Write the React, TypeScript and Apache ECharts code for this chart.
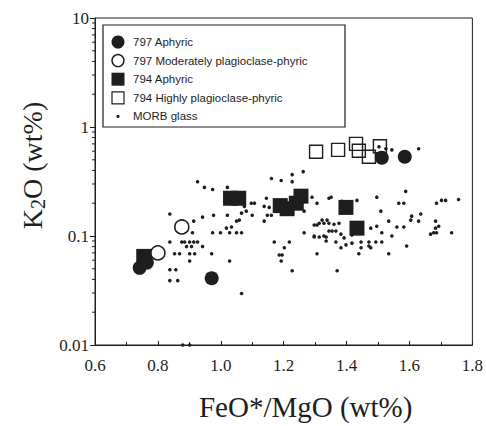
import React, { useEffect, useRef } from "react";
import * as echarts from "echarts";

// 797 Aphyric (filled circles)
const aphyric797: [number, number][] = [
  [0.742, 0.051], [0.765, 0.057], [0.971, 0.041], [1.512, 0.523], [1.585, 0.533],
];
// 797 Moderately plagioclase-phyric (open circles)
const plag797: [number, number][] = [
  [0.80, 0.070], [0.876, 0.121],
];
// 794 Aphyric (filled squares)
const aphyric794: [number, number][] = [
  [0.755, 0.065], [1.031, 0.222], [1.057, 0.222], [1.189, 0.19], [1.211, 0.178],
  [1.24, 0.2], [1.255, 0.232], [1.398, 0.183], [1.433, 0.118],
];
// 794 Highly plagioclase-phyric (open squares)
const plag794: [number, number][] = [
  [1.303, 0.593], [1.373, 0.617], [1.43, 0.70], [1.439, 0.605], [1.471, 0.533], [1.506, 0.665],
];
// MORB glass (small dots)
const morb: [number, number][] = [
  [0.926, 0.315], [0.948, 0.279], [0.974, 0.267], [1.021, 0.279], [0.838, 0.159],
  [0.942, 0.149], [0.977, 0.155], [1.021, 0.155], [1.066, 0.162], [1.081, 0.169],
  [1.100, 0.155], [1.075, 0.187], [1.097, 0.2], [1.107, 0.2], [0.914, 0.137],
  [1.018, 0.118], [1.034, 0.121], [1.050, 0.137], [1.059, 0.140], [0.974, 0.107],
  [0.999, 0.107], [1.028, 0.107], [1.050, 0.107], [1.066, 0.107], [0.910, 0.107],
  [0.876, 0.088], [0.885, 0.088], [0.901, 0.088], [0.914, 0.088], [0.926, 0.088],
  [0.838, 0.088], [0.891, 0.080], [0.907, 0.080], [0.942, 0.080], [0.853, 0.0687],
  [0.869, 0.0687], [0.901, 0.0687], [0.917, 0.0687], [0.971, 0.0687], [0.901, 0.059],
  [1.028, 0.059], [0.838, 0.049], [0.857, 0.049], [0.838, 0.039], [0.863, 0.039],
  [1.066, 0.0297], [0.879, 0.01], [0.901, 0.01],
  [1.161, 0.337], [1.192, 0.323], [1.145, 0.222], [1.138, 0.187], [1.154, 0.183],
  [1.148, 0.155], [1.161, 0.155], [1.138, 0.137], [1.170, 0.088], [1.218, 0.088],
  [1.202, 0.078], [1.186, 0.067], [1.195, 0.067], [1.192, 0.059], [1.227, 0.048],
  [1.306, 0.0687], [1.370, 0.048], [1.439, 0.0687], [1.534, 0.0687],
  [1.227, 0.366], [1.227, 0.315], [1.262, 0.390], [1.265, 0.169], [1.290, 0.227],
  [1.306, 0.2], [1.344, 0.222], [1.322, 0.140], [1.338, 0.140], [1.297, 0.126],
  [1.306, 0.126], [1.313, 0.131], [1.328, 0.131], [1.344, 0.131], [1.360, 0.128],
  [1.376, 0.131], [1.313, 0.098], [1.335, 0.098], [1.344, 0.111], [1.354, 0.111],
  [1.366, 0.111], [1.297, 0.098], [1.366, 0.088], [1.392, 0.096], [1.398, 0.083],
  [1.417, 0.102], [1.382, 0.078],
  [1.629, 0.631], [1.503, 0.658], [1.525, 0.631], [1.544, 0.617],
  [1.351, 0.227], [1.385, 0.208], [1.433, 0.212], [1.496, 0.227], [1.588, 0.257],
  [1.566, 0.2], [1.582, 0.2], [1.686, 0.2], [1.702, 0.212], [1.715, 0.212],
  [1.756, 0.216], [1.509, 0.169], [1.534, 0.137], [1.560, 0.121], [1.582, 0.121],
  [1.604, 0.140], [1.607, 0.152], [1.636, 0.159], [1.629, 0.137], [1.683, 0.137],
  [1.683, 0.118], [1.667, 0.104], [1.677, 0.107], [1.686, 0.107], [1.693, 0.123],
  [1.734, 0.107], [1.265, 0.107], [1.297, 0.100], [1.328, 0.100], [1.335, 0.090],
  [1.382, 0.104], [1.417, 0.086], [1.446, 0.088], [1.471, 0.088], [1.493, 0.088],
  [1.512, 0.088], [1.477, 0.078], [1.446, 0.078], [1.591, 0.081], [1.477, 0.118],
  [1.496, 0.123], [1.512, 0.107], [1.544, 0.100], [1.471, 0.081],
];

const legendLabels = [
  "797 Aphyric",
  "797 Moderately plagioclase-phyric",
  "794 Aphyric",
  "794 Highly plagioclase-phyric",
  "MORB glass",
];

const xTickLabels = ["0.6", "0.8", "1.0", "1.2", "1.4", "1.6", "1.8"];
const yMinorTicks = [
  0.02, 0.03, 0.04, 0.05, 0.06, 0.07, 0.08, 0.09,
  0.2, 0.3, 0.4, 0.5, 0.6, 0.7, 0.8, 0.9,
  2, 3, 4, 5, 6, 7, 8, 9,
];

const INK = "#1e1e1e";
const SERIF = "'Liberation Serif', 'Times New Roman', serif";
const SANS = "'Liberation Sans', Arial, sans-serif";

export default function App() {
  const ref = useRef<HTMLDivElement>(null);

  useEffect(() => {
    if (!ref.current) return;
    const chart = echarts.init(ref.current, undefined, { renderer: "svg" });

    const lx = 103, ly = 25, lw = 242, lh = 102;
    const rowY = (i: number) => ly + 17 + i * 18.6;
    const mx = 118, tx = 133;
    const legendGraphics: any[] = [
      { type: "rect", shape: { x: lx, y: ly, width: lw, height: lh }, style: { fill: "#fff", stroke: INK, lineWidth: 1.2 }, z: 10 },
      { type: "circle", shape: { cx: mx, cy: rowY(0), r: 6.5 }, style: { fill: INK }, z: 11 },
      { type: "circle", shape: { cx: mx, cy: rowY(1), r: 6 }, style: { fill: "#fff", stroke: INK, lineWidth: 1.4 }, z: 11 },
      { type: "rect", shape: { x: mx - 6.5, y: rowY(2) - 6.5, width: 13, height: 13 }, style: { fill: INK }, z: 11 },
      { type: "rect", shape: { x: mx - 6, y: rowY(3) - 6, width: 12, height: 12 }, style: { fill: "#fff", stroke: INK, lineWidth: 1.2 }, z: 11 },
      { type: "circle", shape: { cx: mx, cy: rowY(4), r: 1.6 }, style: { fill: INK }, z: 11 },
      ...legendLabels.map((t, i) => ({
        type: "text",
        x: tx, y: rowY(i),
        style: { text: t, font: `11.5px ${SANS}`, fill: INK, verticalAlign: "middle", align: "left" },
        z: 11,
      })),
    ];

    chart.setOption({
      animation: false,
      backgroundColor: "#fff",
      grid: { left: 95, top: 18, right: 12, bottom: 78, show: true, borderColor: INK, borderWidth: 1, backgroundColor: "transparent" },
      xAxis: {
        type: "value",
        min: 0.6, max: 1.8, interval: 0.2,
        axisLine: { lineStyle: { color: INK, width: 1 } },
        axisTick: { show: true, inside: true, length: 4, lineStyle: { color: INK } },
        minorTick: { show: true, splitNumber: 2, length: 3, lineStyle: { color: INK } },
        splitLine: { show: false },
        axisLabel: {
          margin: 12,
          fontFamily: SERIF, fontSize: 17, color: INK,
          formatter: (v: number) => xTickLabels[Math.round((v - 0.6) / 0.2)] ?? "",
        },
        name: "FeO*/MgO (wt%)",
        nameLocation: "middle",
        nameGap: 47,
        nameTextStyle: { fontFamily: SERIF, fontSize: 29, color: INK, padding: [0, 0, 0, 44] },
      },
      yAxis: {
        type: "log",
        logBase: 10,
        min: 0.01, max: 10,
        axisLine: { show: true, lineStyle: { color: INK, width: 1 } },
        axisTick: { show: true, length: 5, lineStyle: { color: INK } },
        splitLine: { show: false },
        axisLabel: {
          margin: 6,
          fontFamily: SERIF, fontSize: 17, color: INK,
          formatter: (v: number) => String(Number(v.toPrecision(2))),
        },
        name: "{k|K}{s|2}{k|O (wt%)}",
        nameLocation: "middle",
        nameGap: 46,
        nameTextStyle: {
          padding: [0, 0, 0, 32],
          rich: {
            k: { fontFamily: SERIF, fontSize: 28, color: INK },
            s: { fontFamily: SERIF, fontSize: 20, color: INK, padding: [12, 0, 0, 0] },
          },
        },
      },
      graphic: legendGraphics,
      series: [
        {
          type: "custom",
          name: "yMinorTicks",
          clip: false,
          silent: true,
          data: yMinorTicks.map((v) => [0.6, v]),
          renderItem: (params: any, api: any) => {
            const p = api.coord([0.6, api.value(1)]);
            return {
              type: "line",
              shape: { x1: p[0] - 3, y1: p[1], x2: p[0], y2: p[1] },
              style: { stroke: INK, lineWidth: 1 },
            };
          },
          encode: { x: 0, y: 1 },
        },
        {
          type: "scatter", name: "MORB glass", data: morb,
          symbol: "circle", symbolSize: 3.6,
          itemStyle: { color: INK, opacity: 1 },
          z: 2,
        },
        {
          type: "scatter", name: "794 Highly plagioclase-phyric", data: plag794,
          symbol: "rect", symbolSize: 13,
          itemStyle: { color: "rgba(255,255,255,0)", borderColor: INK, borderWidth: 1.4, opacity: 1 },
          z: 3,
        },
        {
          type: "scatter", name: "794 Aphyric", data: aphyric794,
          symbol: "rect", symbolSize: 15,
          itemStyle: { color: INK, opacity: 1 },
          z: 4,
        },
        {
          type: "scatter", name: "797 Aphyric", data: aphyric797,
          symbol: "circle", symbolSize: 14,
          itemStyle: { color: INK, opacity: 1 },
          z: 5,
        },
        {
          type: "scatter", name: "797 Moderately plagioclase-phyric", data: plag797,
          symbol: "circle", symbolSize: 14,
          itemStyle: { color: "#fff", borderColor: INK, borderWidth: 1.6, opacity: 1 },
          z: 6,
        },
      ],
    });

    return () => chart.dispose();
  }, []);

  return (
    <div
      ref={ref}
      style={{ position: "fixed", left: 0, top: 0, width: 486, height: 426, background: "#fff" }}
    />
  );
}
